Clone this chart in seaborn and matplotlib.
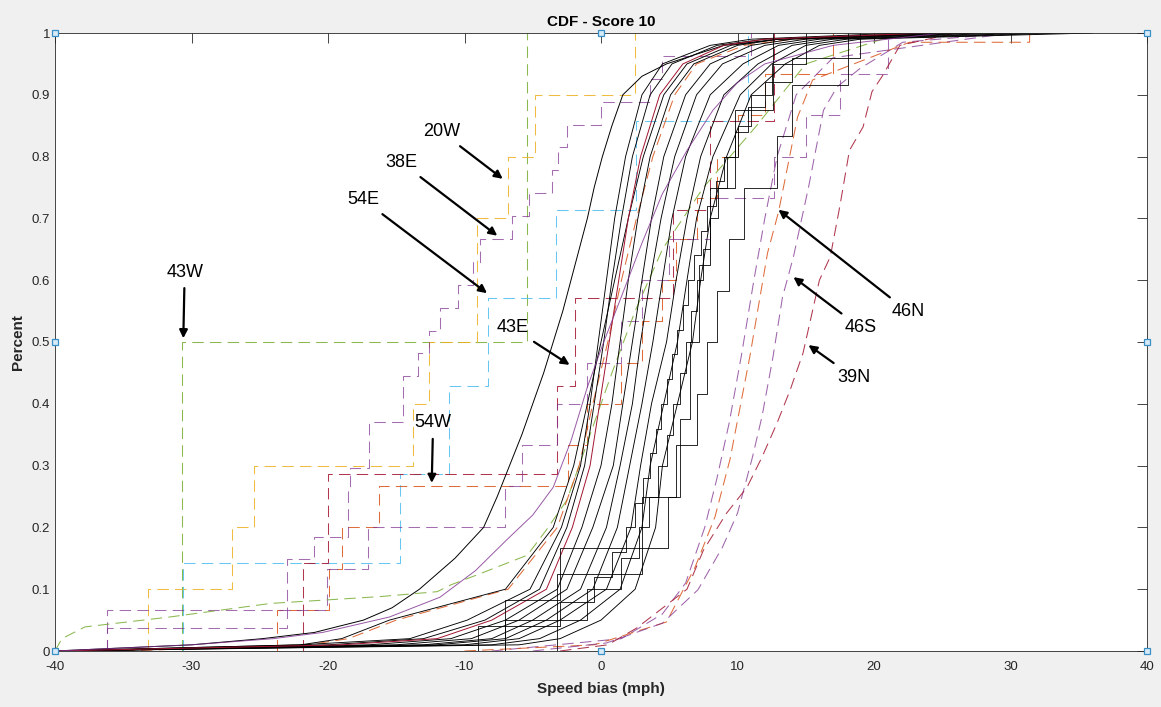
import numpy as np
import seaborn as sns
import matplotlib.pyplot as plt

# MATLAB default colour order
ORANGE = '#D95319'
YELLOW = '#EDB120'
PURPLE = '#7E2F8E'
GREEN = '#77AC30'
CYAN = '#4DBEEE'
RED = '#A2142F'

# percent levels shared by the dense (many-sample) curves
levels = [0, .01, .02, .05, .1, .2, .3, .4, .5, .6, .7, .8, .9, .95, .98, .99, 1]

# dense solid curves: speed bias (mph) reached at each level
k0_low = [-40, -22, -19, -15.5, -7.0, -3.5, -2.0, -1.0, 0.0, 1.0, 2.0, 3.1, 4.6, 6.3, 9.5, 13, 25]
c1 = [-40, -22, -14, -9.8, -5.2, -2.9, -1.5, -0.8, -0.2, 0.4, 1.0, 1.8, 3.0, 4.5, 8.0, 11, 22]
c2 = [-40, -20, -13, -8.5, -4.5, -2.5, -1.2, -0.5, 0.2, 0.8, 1.5, 2.3, 3.6, 5.2, 8.5, 12, 24]
c3 = [-40, -17, -11, -7, -3.2, -1.4, 0.0, 0.8, 1.4, 2.0, 2.7, 3.6, 5.1, 6.8, 10, 13, 26]
c4 = [-40, -15, -9.5, -6, -2.5, -0.6, 0.9, 1.6, 2.3, 3.0, 3.7, 4.6, 6.2, 8.0, 11, 14, 27]
c5 = [-40, -13, -8, -5, -1.5, 0.4, 1.4, 2.3, 2.9, 3.6, 4.4, 5.4, 7.0, 8.9, 12, 15, 28]
c6 = [-40, -12, -7, -4, -0.6, 1.2, 2.1, 3.0, 3.8, 4.5, 5.2, 6.2, 8.0, 10.4, 13, 16, 30]
c7 = [-40, -10, -6, -3, 0.4, 2.2, 2.9, 3.7, 4.8, 5.5, 6.3, 7.3, 9.0, 11.5, 14, 17, 32]
c8 = [-40, -8, -4.5, -1.5, 1.4, 3.0, 3.6, 4.6, 5.6, 6.3, 7.0, 8.2, 10.2, 12.5, 15, 18, 34]
c9 = [-40, -6, -3, 0, 2.5, 4.0, 4.5, 5.6, 6.7, 7.3, 8.0, 9.2, 11.0, 13.5, 16, 19, 36]
red_solid = [-40, -19, -12, -8, -4.0, -2.1, -0.8, -0.1, 0.6, 1.3, 2.0, 2.9, 4.3, 6.0, 9.0, 12, 24]
orange_low = [-35, -21.5, -18.5, -15, -6.8, -3.2, -1.6, -0.6, 0.5, 1.5, 2.6, 3.8, 5.4, 7.0, 10.5, 14, 26]

# widest black curve (finer levels)
k1_x = [-40, -30, -24.8, -21, -17.4, -15.3, -13.3, -10.7, -8.6, -7.6, -6.7, -5.8, -5.0,
        -4.2, -3.5, -2.8, -2.2, -1.6, -1.0, -0.5, 0.1, 0.8, 1.6, 3.0, 4.8, 9.0, 13.0, 25.0]
k1_y = [0, .01, .02, .03, .05, .07, .1, .15, .2, .25, .3, .35, .4,
        .45, .5, .55, .6, .65, .7, .75, .8, .85, .9, .93, .95, .98, .99, 1]

# purple solid curve (own levels)
purple_solid_x = [-40, -30, -24, -20.4, -15.5, -11.8, -9.2, -6.9, -5.0, -3.5, -2.2, -1.0, 0.2,
                  1.4, 3.0, 4.5, 6.3, 8.2, 10, 12, 17, 25]
purple_solid_y = [0, .01, .02, .03, .055, .087, .13, .18, .22, .265, .34, .427, .5,
                  .568, .66, .74, .81, .875, .92, .95, .98, 1]

# dense green dashed curve
green_x = [-40, -39.5, -37.8, -31.6, -24.2, -16.2, -12, -11, -9.1, -5.4, -4.0, -2.5,
           -0.8, 0.8, 2.5, 4.5, 7.5, 11.4, 15, 22]
green_y = [0, .02, .039, .055, .077, .088, .096, .107, .123, .155, .196, .244,
           .35, .45, .55, .65, .75, .85, .95, 1]

# right-hand dashed curves
n46_x = [-10, -0.5, 4.8, 6.9, 8.35, 9.45, 10.9, 11.65, 12.2, 13.0, 14.4, 15.5, 22.6, 31.4, 31.4]
n46_y = [0, .01, .047, .136, .217, .31, .476, .573, .644, .71, .864, .924, .985, .985, 1]
s46_x = [-5, 0.4, 4.5, 7.1, 8.9, 10.0, 11.1, 11.8, 12.6, 13.3, 14.1, 15.2, 16.3, 17.3, 19, 22.1, 30]
s46_y = [0, .013, .045, .099, .168, .223, .314, .38, .476, .573, .638, .75, .875, .913, .943, .985, 1]
n39_x = [-3, 0.5, 2.6, 6.3, 7.5, 9.2, 10.7, 11.8, 12.9, 13.85, 14.8, 16.0, 16.8, 17.5, 18.2,
         19.2, 19.85, 20.6, 21.9, 26]
n39_y = [0, .01, .037, .1, .163, .223, .265, .314, .369, .422, .482, .6, .638, .72, .81,
         .848, .905, .93, .98, 1]
purple2_x = [-8, 1.5, 4.5, 6.2, 7.6, 8.5, 9.4, 10.3, 11.2, 12.0, 12.9, 14.3, 17, 30]
purple2_y = [0, .02, .06, .11, .2, .28, .37, .48, .6, .7, .8, .9, .96, 1]

# sparse stations: raw speed-bias samples (empirical CDF)
w43 = [-30.7, -5.4]
w20 = [-33.2, -27.0, -25.4, -13.8, -12.6, -9.1, -9.1, -6.8, -4.8, 2.5]
e54 = [-30.6, -14.7, -11.1, -8.3, -3.3, 2.6, 10.8]
e43 = [-21.8, -20.0, -3.2, -1.9, 5.3, 8.0, 12.7]
w54 = [-23.7, -19.9, -19.0, -16.3, -2.4, -1.0, 1.5, 3.0, 4.5, 5.5, 7.0, 8.5, 10.0, 12.0, 17.0]
e38 = [-36.2, -23.0, -23.0, -23.0, -21.0, -18.5, -18.5, -18.4, -17.0, -17.0, -14.5, -14.5,
       -13.4, -12.6, -11.8, -10.5, -9.4, -8.9, -6.5, -5.3, -3.6, -3.15, -2.5, 0.0, 3.6, 4.5, 11.0]
purple_b = [-36.2, -20.1, -17.1, -7.0, -5.8, -3.2, -1.0, 1.5, 3.0, 5.0, 8.0, 12.7, 15.0, 17.5, 21.0]

# black step curves with few samples
s1 = [-7.0, -3.0, 4.9, 5.5, 7.0, 7.8, 8.5, 9.4, 10.5, 12.9, 14.0, 18.1]
s2 = [-3.2, 3.0, 5.8, 6.5, 7.2, 8.0, 9.8, 12.6]
s3 = [-7, -1, 1.5, 2.8, 3.5, 4.2, 4.8, 5.3, 5.8, 6.2, 6.6, 7.0, 7.5, 8.0, 8.6, 9.2, 10.0,
      11.0, 12.5, 15.0]
s4 = [-9, -3, -0.5, 0.8, 1.8, 2.5, 3.1, 3.6, 4.0, 4.4, 4.8, 5.2, 5.6, 6.0, 6.4, 6.8, 7.3,
      7.8, 8.4, 9.0, 9.8, 10.8, 12, 14, 19]

# annotations
labels = ['20W', '38E', '54E', '43W', '43E', '54W', '46N', '46S', '39N']
label_x = [-11.7, -14.6, -17.4, -30.5, -6.5, -12.3, 22.5, 19.0, 18.5]
label_y = [0.84, 0.79, 0.73, 0.613, 0.523, 0.369, 0.549, 0.523, 0.443]
head_x = [-7.2, -7.6, -8.35, -30.6, -2.3, -12.4, 13.0, 14.1, 15.2]
head_y = [0.764, 0.672, 0.579, 0.506, 0.463, 0.272, 0.714, 0.605, 0.495]

sns.set_style('white')
plt.rcParams['font.family'] = ['Liberation Sans', 'DejaVu Sans']
plt.rcParams['axes.unicode_minus'] = False

DASH = (0, (11, 6))

fig = plt.figure(figsize=(11.61, 7.07), dpi=100, facecolor='#f0f0f0')
ax = fig.add_axes([55 / 1161, 56 / 707, 1092 / 1161, 618 / 707])
ax.set_facecolor('white')


def dense(xs, ys, color, ls='-', lw=0.7, alpha=1.0):
    sns.lineplot(x=xs, y=ys, ax=ax, color=color, linewidth=lw, linestyle=ls,
                 estimator=None, sort=False, alpha=alpha)


def steps(vals, color, ls=DASH, lw=0.75, alpha=0.85):
    sns.ecdfplot(x=vals, ax=ax, color=color, linewidth=lw, linestyle=ls, alpha=alpha)


# sparse stations first (behind)
steps(w43, GREEN)
steps(w20, YELLOW)
steps(e54, CYAN)
steps(e43, RED)
steps(w54, ORANGE)
steps(e38, PURPLE, alpha=0.7)
steps(purple_b, PURPLE, alpha=0.7)

# dense dashed ones
dense(green_x, green_y, GREEN, DASH, 0.75, 0.85)
dense(orange_low, levels, ORANGE, DASH, 0.75, 0.85)
dense(purple2_x, purple2_y, PURPLE, DASH, 0.75, 0.75)
dense(n46_x, n46_y, ORANGE, DASH, 0.75, 0.85)
dense(s46_x, s46_y, PURPLE, DASH, 0.75, 0.75)
dense(n39_x, n39_y, RED, DASH, 0.75, 0.85)

# solid curves
dense(k1_x, k1_y, 'black')
for xs in [k0_low, c1, c2, c3, c4, c5, c6, c7, c8, c9]:
    dense(xs, levels, 'black', lw=0.65)
dense(red_solid, levels, RED)
dense(purple_solid_x, purple_solid_y, PURPLE, alpha=0.8)
for vals in [s1, s2, s3, s4]:
    steps(vals, 'black', '-', 0.65, 0.9)

for t, tx, ty, hx, hy in zip(labels, label_x, label_y, head_x, head_y):
    ax.annotate(t, xy=(hx, hy), xytext=(tx, ty), ha='center', va='center',
                fontsize=13, color='black',
                arrowprops=dict(arrowstyle='-|>', color='black', lw=1.6,
                                mutation_scale=12, shrinkA=3, shrinkB=0))

# axes styling in the MATLAB manner
ax.set_xlim(-40, 40)
ax.set_ylim(0, 1)
ax.set_xticks(range(-40, 41, 10))
ax.set_yticks(np.arange(0, 1.01, 0.1))
ax.set_yticklabels(['0', '0.1', '0.2', '0.3', '0.4', '0.5', '0.6', '0.7', '0.8', '0.9', '1'])
ax.tick_params(direction='in', length=7.5, width=0.6, top=True, right=True,
               labelsize=9.5, colors='#262626')
ax.tick_params(axis='x', pad=7)
ax.tick_params(axis='y', pad=3.5)
for sp in ax.spines.values():
    sp.set_visible(True)
    sp.set_color('#262626')
    sp.set_linewidth(0.6)

ax.set_title('CDF - Score 10', fontsize=11, fontweight='bold', color='black', pad=5)
ax.set_xlabel('Speed bias (mph)', fontsize=11, fontweight='bold', color='#262626', labelpad=7)
ax.set_ylabel('Percent', fontsize=11, fontweight='bold', color='#262626', labelpad=5)

# selection handles of the edited figure
hx_pos = [0, 0.5, 1, 0, 1, 0, 0.5, 1]
hy_pos = [1, 1, 1, 0.5, 0.5, 0, 0, 0]
ax.plot(hx_pos, hy_pos, 's', transform=ax.transAxes, clip_on=False, ms=4,
        mfc='#d6eaf8', mec='#3a8fc7', mew=0.9, zorder=10)

fig.savefig('out.png', dpi=100, facecolor=fig.get_facecolor())
